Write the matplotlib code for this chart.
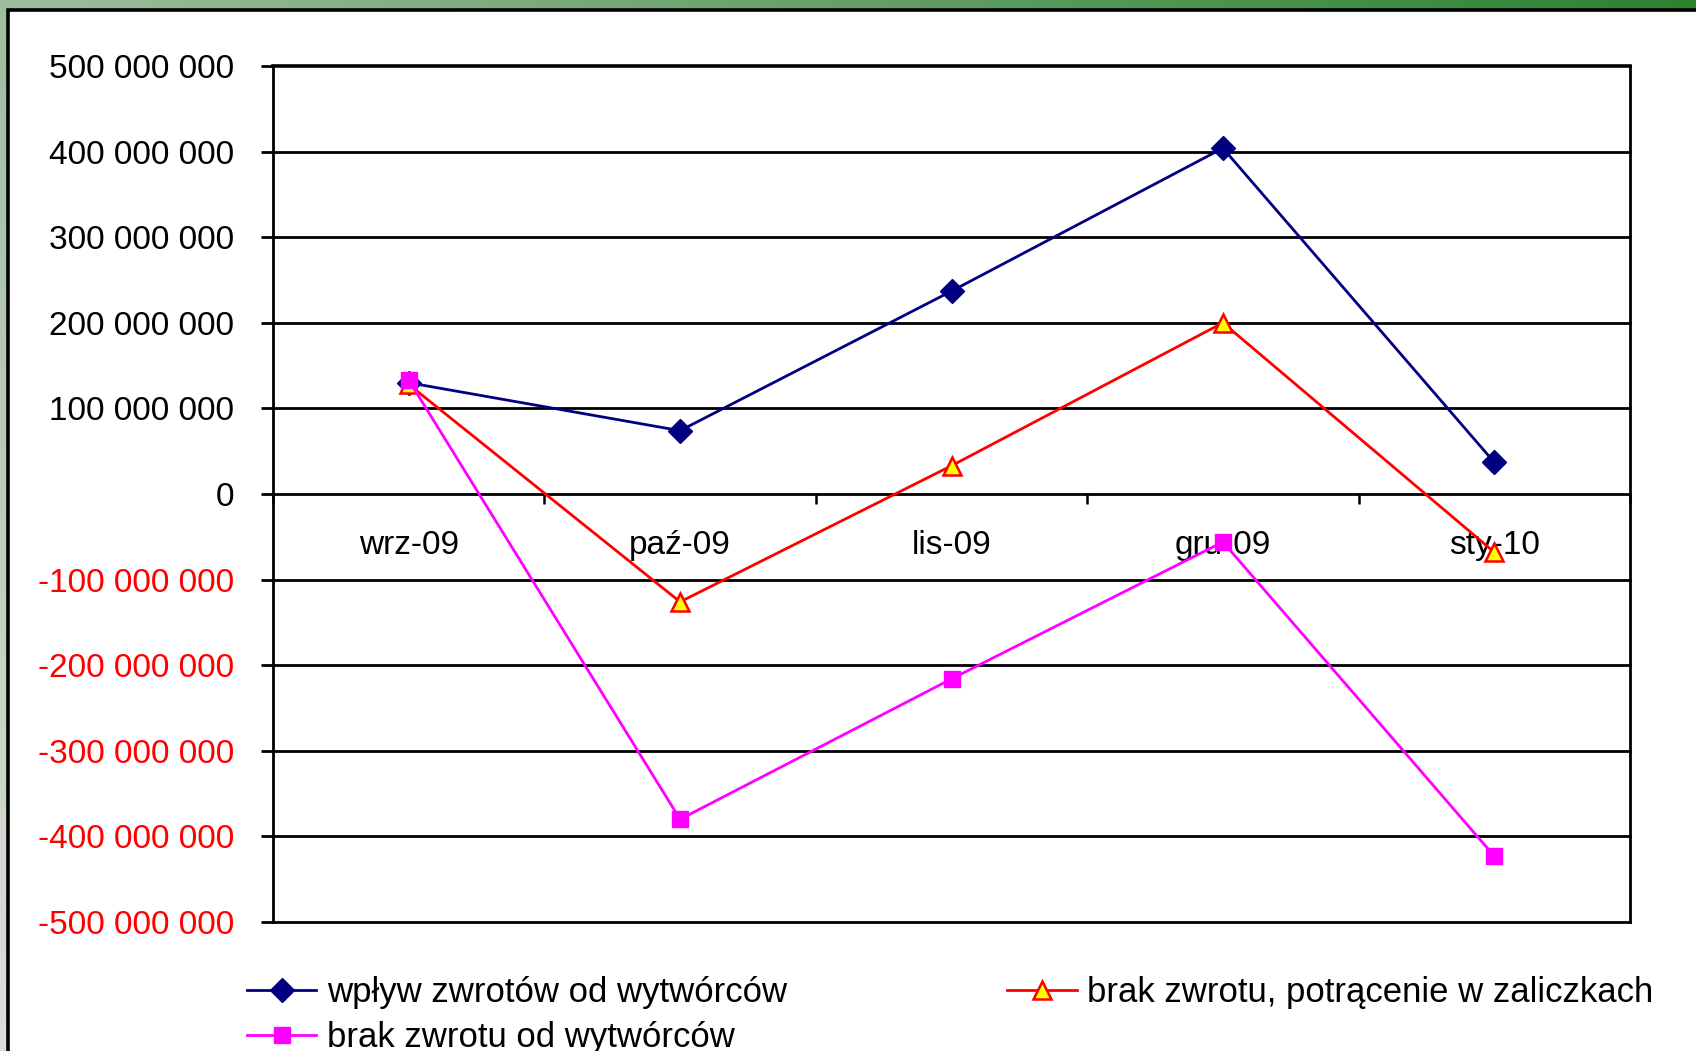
import numpy as np
import matplotlib.pyplot as plt
from matplotlib.patches import Rectangle
from matplotlib.ticker import FixedLocator, FuncFormatter

# dane
miesiace = ['wrz-09', 'paź-09', 'lis-09', 'gru-09', 'sty-10']
wplyw = [130e6, 74e6, 237e6, 404e6, 37e6]
potracenie = [128e6, -126e6, 33e6, 200e6, -68e6]
brak_zwrotu = [133e6, -380e6, -216e6, -56e6, -423e6]
y_ticks = np.arange(-500e6, 500e6 + 1, 100e6)

etykiety = ['wpływ zwrotów od wytwórców',
            'brak zwrotu, potrącenie w zaliczkach',
            'brak zwrotu od wytwórców']

plt.rcParams['font.family'] = ['Liberation Sans', 'DejaVu Sans']

W, H = 1696, 1051
fig = plt.figure(figsize=(W / 100, H / 100), dpi=100)

# tło z gradientem (ramka slajdu)
bg = fig.add_axes([0, 0, 1, 1], zorder=-10)
u, v = np.meshgrid(np.linspace(0, 1, 400), np.linspace(0, 1, 260))
t = np.clip(u * 0.65 + (1 - v) * 0.35, 0, 1)[..., None]
jasny = np.array([220, 221, 218]) / 255
zielony = np.array([45, 130, 48]) / 255
bg.imshow(jasny * (1 - t) + zielony * t, aspect='auto', extent=[0, 1, 0, 1])
bg.set_axis_off()
bg.add_patch(Rectangle((8 / W, -0.05), 1.1, 1 - 10 / H + 0.05, transform=bg.transAxes,
                       facecolor='white', edgecolor='black', linewidth=2.6))

ax = fig.add_axes([273 / W, 1 - 922 / H, (1630 - 273) / W, (922 - 66) / H])
ax.set_facecolor('none')
x = np.arange(len(miesiace))

# linie siatki
for y in y_ticks:
    if y not in (0, 500e6):
        ax.axhline(y, color='black', lw=2.0, zorder=1, clip_on=False)

ax.plot(x, wplyw, color='#000080', lw=2.0, marker='D', markersize=12,
        label=etykiety[0], zorder=3, clip_on=False)
ax.plot(x, potracenie, color='#ff0000', lw=2.0, marker='^', markersize=13,
        markerfacecolor='#ffff00', markeredgecolor='#ff0000', markeredgewidth=1.8,
        label=etykiety[1], zorder=4, clip_on=False)
ax.plot(x, brak_zwrotu, color='#ff00ff', lw=2.0, marker='s', markersize=12,
        label=etykiety[2], zorder=5, clip_on=False)

ax.set_xlim(-0.5, len(miesiace) - 0.5)
ax.set_ylim(-500e6, 500e6)

for s in ['left', 'right', 'bottom']:
    ax.spines[s].set_linewidth(2.0)
ax.spines['top'].set_linewidth(2.6)
ax.spines['bottom'].set_position(('data', 0))

ax.yaxis.set_major_locator(FixedLocator(y_ticks))
ax.yaxis.set_major_formatter(FuncFormatter(lambda v, p: f'{int(round(v)):,}'.replace(',', ' ')))
ax.tick_params(axis='y', direction='out', length=9, width=2.0, pad=19, labelsize=24)
for lab, val in zip(ax.get_yticklabels(), y_ticks):
    lab.set_color('#ff0000' if val < 0 else 'black')

ax.xaxis.set_major_locator(FixedLocator(np.arange(-0.5, len(miesiace), 1.0)))
ax.xaxis.set_major_formatter(FuncFormatter(lambda v, p: ''))
ax.set_xticks(x, miesiace, minor=True)
ax.tick_params(axis='x', which='major', direction='out', length=7, width=1.8)
ax.tick_params(axis='x', which='minor', length=0, pad=26, labelsize=24)

h, l = ax.get_legend_handles_labels()
fig.legend([h[0], h[2], h[1]], [l[0], l[2], l[1]], ncol=2, loc='upper left',
           bbox_to_anchor=(247 / W, 1 - 976 / H), frameon=False, fontsize=25,
           borderpad=0, borderaxespad=0, handlelength=2.0, handletextpad=0.3,
           columnspacing=6.35, labelspacing=0.35, numpoints=1)

fig.savefig('out.png', dpi=100)
